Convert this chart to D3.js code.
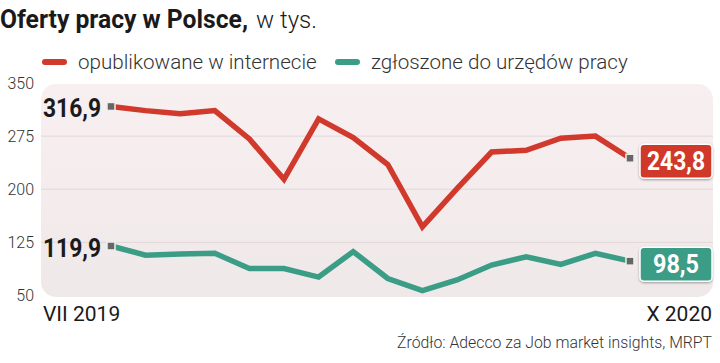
<!DOCTYPE html>
<html>
<head>
<meta charset="utf-8">
<script src="https://cdn.jsdelivr.net/npm/d3@7"></script>
<style>
  body { margin: 0; background: #fff; }
  svg { display: block; }
</style>
</head>
<body>
<script>
// Oferty pracy w Polsce, VII 2019 - X 2020 (tys.)
var months = ["VII 2019","VIII 2019","IX 2019","X 2019","XI 2019","XII 2019","I 2020","II 2020",
              "III 2020","IV 2020","V 2020","VI 2020","VII 2020","VIII 2020","IX 2020","X 2020"];
var internet = [316.9, 311, 306.6, 311, 271, 214, 299.4, 273, 235, 147, 201, 252.5, 255, 272, 275, 243.8];
var urzedy   = [119.9, 107, 108.5, 109.5, 88, 88, 76, 112, 74, 57, 72, 93, 104.7, 94, 109.5, 98.5];
var yTicks = [50, 125, 200, 275, 350];
var seriesNames = ["opublikowane w internecie", "zgłoszone do urzędów pracy"];
var colors = ["#d0392b", "#3b9d86"];

var svgWidth = 720, svgHeight = 363;
var plot = {left: 41, right: 713, top: 84, bottom: 297};

var svg = d3.select("body").append("svg").attr("width", svgWidth).attr("height", svgHeight);

var bold = "Roboto, 'Liberation Sans', sans-serif";
var light = "Roboto, 'Open Sans', sans-serif";

// gradient background of the plot
var defs = svg.append("defs");
var grad = defs.append("linearGradient").attr("id", "bg").attr("x1", 0).attr("y1", 0).attr("x2", 0).attr("y2", 1);
grad.append("stop").attr("offset", "0%").attr("stop-color", "#f8eff1");
grad.append("stop").attr("offset", "100%").attr("stop-color", "#efe8e8");

var shadow = defs.append("filter").attr("id", "sh").attr("x", "-20%").attr("y", "-20%").attr("width", "140%").attr("height", "140%");
shadow.append("feDropShadow").attr("dx", 0).attr("dy", 1).attr("stdDeviation", 1.2).attr("flood-opacity", 0.35);

// title (condensed look via textLength)
svg.append("text").attr("x", 0).attr("y", 28).attr("fill", "#1a1a1a")
  .attr("font-family", bold).attr("font-weight", "bold").attr("font-size", 25)
  .attr("textLength", 248).attr("lengthAdjust", "spacingAndGlyphs")
  .text("Oferty pracy w Polsce,");
svg.append("text").attr("x", 256).attr("y", 28).attr("fill", "#1a1a1a")
  .attr("font-family", light).attr("font-weight", 300).attr("font-size", 24)
  .text("w tys.");

// legend
var legendX = [42, 335];
seriesNames.forEach(function(name, i) {
  svg.append("line")
    .attr("x1", legendX[i] + 3).attr("x2", legendX[i] + 22)
    .attr("y1", 62).attr("y2", 62)
    .attr("stroke", colors[i]).attr("stroke-width", 6).attr("stroke-linecap", "round");
  svg.append("text")
    .attr("x", legendX[i] + 36).attr("y", 69)
    .attr("font-family", light).attr("font-weight", 300).attr("font-size", 20.6)
    .attr("fill", "#333").text(name);
});

// scales
var xScale = d3.scalePoint().domain(months).range([111, 630]);
var yScale = d3.scaleLinear().domain([50, 350]).range([295.5, 83]);

svg.append("rect")
  .attr("x", plot.left).attr("y", plot.top)
  .attr("width", plot.right - plot.left).attr("height", plot.bottom - plot.top)
  .attr("rx", 15).attr("fill", "url(#bg)");

// grid lines
svg.selectAll(".grid")
  .data(yTicks.filter(function(d) { return d > 50 && d < 350; }))
  .enter().append("line")
  .attr("x1", plot.left).attr("x2", plot.right)
  .attr("y1", function(d) { return yScale(d); })
  .attr("y2", function(d) { return yScale(d); })
  .attr("stroke", "#e2d8da").attr("stroke-width", 1);

// y axis labels
var yAxis = d3.axisLeft(yScale).tickValues(yTicks).tickSize(0).tickPadding(0);
var yg = svg.append("g").attr("transform", "translate(34,0)").call(yAxis);
yg.select(".domain").remove();
yg.selectAll("text")
  .attr("font-family", light).attr("font-weight", 300).attr("font-size", 16)
  .attr("fill", "#333");

// lines
var line = d3.line()
  .x(function(d, i) { return xScale(months[i]); })
  .y(function(d) { return yScale(d); })
  .curve(d3.curveLinear);

var fmt = function(v) { return d3.format(".1f")(v).replace(".", ","); };

[internet, urzedy].forEach(function(series, i) {
  svg.append("path")
    .datum(series)
    .attr("d", line)
    .attr("fill", "none")
    .attr("stroke", colors[i])
    .attr("stroke-width", 5.5)
    .attr("stroke-linejoin", "miter");

  var first = series[0], last = series[series.length - 1];
  var fx = xScale(months[0]), lx = xScale(months[months.length - 1]);

  // marker squares
  [[fx, first], [lx, last]].forEach(function(p) {
    svg.append("rect")
      .attr("x", p[0] - 4).attr("y", yScale(p[1]) - 4)
      .attr("width", 8).attr("height", 8)
      .attr("fill", "#666").attr("stroke", "#f2eeee").attr("stroke-width", 1.5);
  });

  // start value label
  svg.append("text")
    .attr("x", 43).attr("y", yScale(first) + 11)
    .attr("font-family", bold).attr("font-weight", "bold").attr("font-size", 25)
    .attr("textLength", 58).attr("lengthAdjust", "spacingAndGlyphs")
    .attr("fill", "#1a1a1a")
    .text(fmt(first));

  // end value box
  var cy = yScale(last) + 3;
  svg.append("rect")
    .attr("x", 640).attr("y", cy - 17)
    .attr("width", 72).attr("height", 34).attr("rx", 4)
    .attr("fill", colors[i]).attr("stroke", "#fff").attr("stroke-width", 1.5)
    .attr("filter", "url(#sh)");
  var w = fmt(last).length > 4 ? 58 : 46;
  svg.append("text")
    .attr("x", 676 - w / 2).attr("y", cy + 9)
    .attr("font-family", bold).attr("font-weight", "bold").attr("font-size", 25)
    .attr("textLength", w).attr("lengthAdjust", "spacingAndGlyphs")
    .attr("fill", "#fff")
    .text(fmt(last));
});

// x labels
svg.append("text").attr("x", 43).attr("y", 321)
  .attr("font-family", light).attr("font-weight", 400).attr("font-size", 21).attr("fill", "#1a1a1a")
  .text(months[0]);
svg.append("text").attr("x", 712).attr("y", 321).attr("text-anchor", "end")
  .attr("font-family", light).attr("font-weight", 400).attr("font-size", 21).attr("fill", "#1a1a1a")
  .text(months[months.length - 1]);

// source
svg.append("text").attr("x", 712).attr("y", 348).attr("text-anchor", "end")
  .attr("font-family", light).attr("font-weight", 300).attr("font-size", 15.8).attr("fill", "#333")
  .text("Źródło: Adecco za Job market insights, MRPT");
</script>
</body>
</html>
